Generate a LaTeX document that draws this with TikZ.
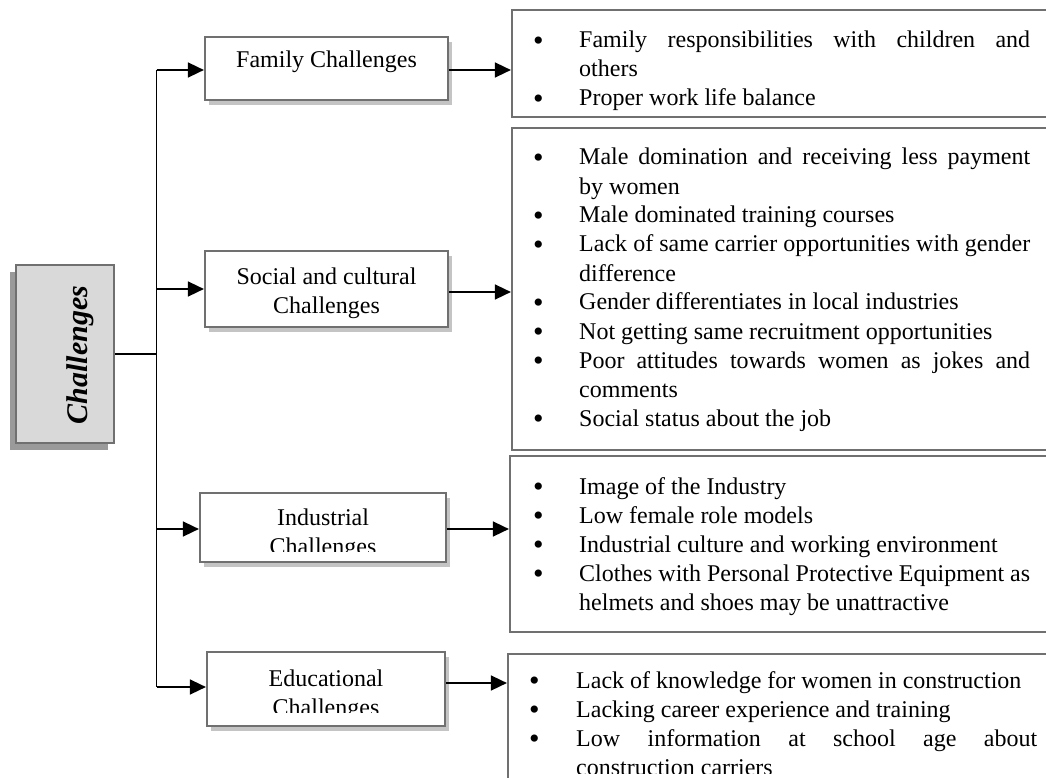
\documentclass[tikz,border=0pt]{standalone}
\usepackage{fontspec}
\setmainfont{Liberation Serif}
\usetikzlibrary{arrows.meta}
\definecolor{bord}{HTML}{707070}
\definecolor{chfill}{HTML}{D9D9D9}
\definecolor{chshadow}{HTML}{9A9A9A}
\definecolor{tshadow}{HTML}{C4C4C4}
\newlength{\bulind}
\newcommand{\bigbul}{\smash{\raisebox{-2.5pt}{\fontsize{30}{29}\selectfont\textbullet}}}
\newcommand{\bitem}[1]{\par\noindent\hangindent=\bulind\hangafter=1\makebox[\bulind][l]{\bigbul}#1}
\newcommand{\blist}[3]{\vtop{\hsize=#1\setlength{\bulind}{#2}\fontsize{24}{29}\selectfont\parindent=0pt\hyphenpenalty=10000\exhyphenpenalty=10000\tolerance=10000 #3\par}}
\begin{document}
\begin{tikzpicture}[x=1pt,y=-1pt,
  tbox/.style={draw=bord,line width=2.2pt,fill=white},
  lbox/.style={draw=bord,line width=2.2pt,fill=white},
  ttl/.style={anchor=base,inner sep=0pt,font=\fontsize{24}{29}\selectfont},
  lst/.style={anchor=base west,inner sep=0pt},
  arr/.style={line width=1.6pt,-{Triangle[length=16pt,width=15pt]}},
  ln/.style={line width=1.6pt}]
\useasboundingbox (0,0) rectangle (1046,778);

% main box
\fill[chshadow] (10,272) rectangle (108,450);
\node[lbox,fill=chfill,minimum width=98pt,minimum height=178pt] (ch) at (65,354) {};
\node[rotate=90,inner sep=0pt,font=\fontsize{30}{30}\selectfont\bfseries\itshape] (chT) at (80,355) {Challenges};

% title boxes
\fill[tshadow] (209,42) rectangle (452,105);
\node[tbox,minimum width=243pt,minimum height=63pt] (fam) at (326.5,68.5) {};
\node[ttl] (famT) at (326.5,68) {Family Challenges};

\fill[tshadow] (209,256) rectangle (452,332);
\node[tbox,minimum width=243pt,minimum height=76pt] (soc) at (326.5,289) {};
\node[ttl] (socT1) at (326.5,284) {Social and cultural};
\node[ttl] (socT2) at (326.5,313) {Challenges};

\fill[tshadow] (204,498) rectangle (450,567);
\node[tbox,minimum width=246pt,minimum height=69pt] (ind) at (323,527.5) {};
\node[ttl] (indT1) at (323,525) {Industrial};
\begin{scope}
\clip (200,493) rectangle (446,551);
\node[ttl] (indT2) at (323,554) {Challenges};
\end{scope}

\fill[tshadow] (211,657) rectangle (449,731);
\node[tbox,minimum width=238pt,minimum height=74pt] (edu) at (326,689) {};
\node[ttl] (eduT1) at (326,686) {Educational};
\begin{scope}
\clip (207,652) rectangle (445,712);
\node[ttl] (eduT2) at (326,715) {Challenges};
\end{scope}

% list boxes
\node[lbox,minimum width=548pt,minimum height=107pt] (famL) at (786,63.5) {};
\node[lst] (famLT) at (533,48) {\blist{497pt}{46pt}{%
\bitem{Family responsibilities with children and\linebreak others}%
\bitem{Proper work life balance}}};

\node[lbox,minimum width=548pt,minimum height=322pt] (socL) at (786,289) {};
\node[lst] (socLT) at (533,165) {\blist{497pt}{46pt}{%
\bitem{Male domination and receiving less payment\linebreak by women}%
\bitem{Male dominated training courses}%
\bitem{Lack of same carrier opportunities with gender\linebreak difference}%
\bitem{Gender differentiates in local industries}%
\bitem{Not getting same recruitment opportunities}%
\bitem{Poor attitudes towards women as jokes and\linebreak comments}%
\bitem{Social status about the job}}};

\node[lbox,minimum width=550pt,minimum height=176pt] (indL) at (785,544) {};
\node[lst] (indLT) at (533,494) {\blist{497pt}{46pt}{%
\bitem{Image of the Industry}%
\bitem{Low female role models}%
\bitem{Industrial culture and working environment}%
\bitem{Clothes with Personal Protective Equipment as\linebreak helmets and shoes may be unattractive}}};

\node[lbox,minimum width=552pt,minimum height=146pt] (eduL) at (784,727) {};
\begin{scope}
\clip (500,600) rectangle (1046,773);
\node[lst] (eduLT) at (529,688) {\blist{508pt}{47pt}{%
\bitem{Lack of knowledge for women in construction}%
\bitem{Lacking career experience and training}%
\bitem{Low information at school age about\linebreak construction carriers}}};
\end{scope}

% connectors
\coordinate (tFam) at (156.5,70);
\coordinate (tSoc) at (156.5,289);
\coordinate (tInd) at (156.5,529);
\coordinate (tEdu) at (156.5,687);
\draw[ln] (tFam) -- (tEdu);
\draw[ln] (ch.east) -- (ch.east -| tFam);
\draw[arr] (tFam) -- (tFam -| fam.west);
\draw[arr] (tSoc) -- (tSoc -| soc.west);
\draw[arr] (tInd) -- (tInd -| ind.west);
\draw[arr] (tEdu) -- (tEdu -| edu.west);

\coordinate (rFam) at (480,70);
\coordinate (rSoc) at (480,292);
\coordinate (rInd) at (480,529);
\coordinate (rEdu) at (480,683);
\draw[arr] (rFam -| fam.east) -- (rFam -| famL.west);
\draw[arr] (rSoc -| soc.east) -- (rSoc -| socL.west);
\draw[arr] (rInd -| ind.east) -- (rInd -| indL.west);
\draw[arr] (rEdu -| edu.east) -- (rEdu -| eduL.west);
\end{tikzpicture}
\end{document}
